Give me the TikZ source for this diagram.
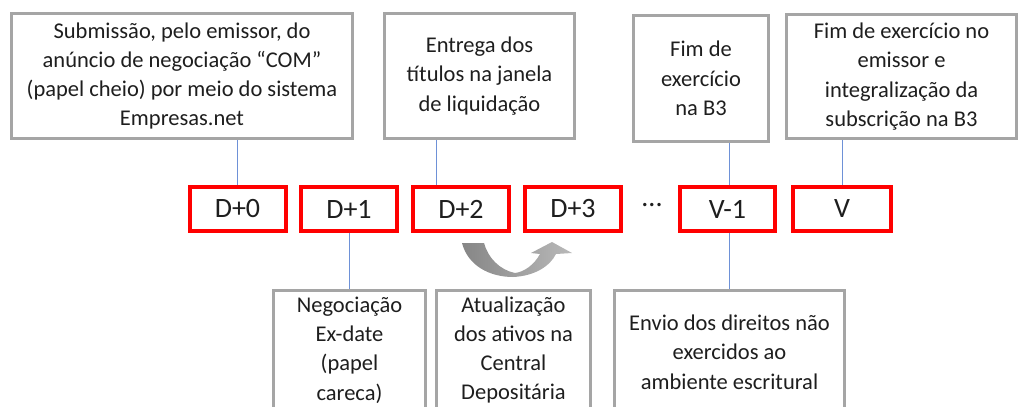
\documentclass[tikz,border=0pt]{standalone}
\usepackage{fontspec}
\setmainfont{Carlito}
\definecolor{boxgray}{RGB}{165,165,165}
\definecolor{linkblue}{RGB}{110,145,215}
\definecolor{txtgray}{RGB}{30,30,30}

\begin{document}
\begin{tikzpicture}[x=1pt,y=-1pt]
    \tikzset{event/.style = {draw=boxgray, line width=3pt, align=center, inner sep=0pt, text=txtgray, font=\fontsize{22.5}{29.3}\selectfont}}
    \tikzset{day/.style = {draw=red, line width=4pt, minimum width=96, minimum height=44, inner sep=0pt, text=txtgray, font=\fontsize{28}{32}\selectfont}}
    \tikzset{link/.style = {draw=linkblue, line width=1pt}}
    \clip (0,0) rectangle (1023,407);
    % events above
    \node[event, minimum width=341, minimum height=125] (sub) at (182,76) {Submissão, pelo emissor, do\\anúncio de negociação “COM”\\(papel cheio) por meio do sistema\\Empresas.net};
    \node[event, minimum width=190, minimum height=125] (ent) at (479.5,76) {Entrega dos\\títulos na janela\\de liquidação};
    \node[event, minimum width=135, minimum height=126] (fimb) at (701,78.5) {Fim de\\exercício\\na B3};
    \node[event, minimum width=230, minimum height=124] (fime) at (901.5,76.5) {Fim de exercício no\\emissor e\\integralização da\\subscrição na B3};
    % days
    \node[day] (d0) at (237.5,209) {D+0};
    \node[day] (d1) at (349,209) {D+1};
    \node[day] (d2) at (461,209) {D+2};
    \node[day] (d3) at (573,209) {D+3};
    \node[text=txtgray, inner sep=0pt, font=\fontsize{28}{32}\selectfont] (dots) at (652,205) {...};
    \node[day, minimum width=95] (v1) at (727.5,209) {V-1};
    \node[day, minimum width=98] (v) at (842,209) {V};
    % events below
    \node[event, minimum width=152, minimum height=120] (neg) at (349.5,350) {Negociação\\Ex-date\\(papel\\careca)};
    \node[event, minimum width=154, minimum height=120] (atu) at (513.5,350) {Atualização\\dos ativos na\\Central\\Depositária};
    \node[event, minimum width=230, minimum height=124] (env) at (729.5,352) {Envio dos direitos não\\exercidos ao\\ambiente escritural};
    %edges
    \draw[link] (d0.north) -- (d0.north |- sub.south);
    \draw[link] ([xshift=-25pt]d2.north) -- ([xshift=-25pt]d2.north |- ent.south);
    \draw[link] ([xshift=1.5pt]v1.north) -- ([xshift=1.5pt]v1.north |- fimb.south);
    \draw[link] (v.north) -- (v.north |- fime.south);
    \draw[link] (d1.south) -- (d1.south |- neg.north);
    \draw[link] ([xshift=1.5pt]v1.south) -- ([xshift=1.5pt]v1.south |- env.north);
    % curved arrow from D+2 to D+3
    \shade[left color=gray!95, right color=gray!55]
        (462,243) .. controls (468,266) and (490,277) .. (513,277)
        .. controls (535,276) and (550,266) .. (556,254)
        -- (572,253) -- (552,242) -- (531,253) -- (540,254)
        .. controls (534,265) and (524,272) .. (515,273)
        .. controls (500,270) and (488,258) .. (484,243) -- cycle;
\end{tikzpicture}
\end{document}
